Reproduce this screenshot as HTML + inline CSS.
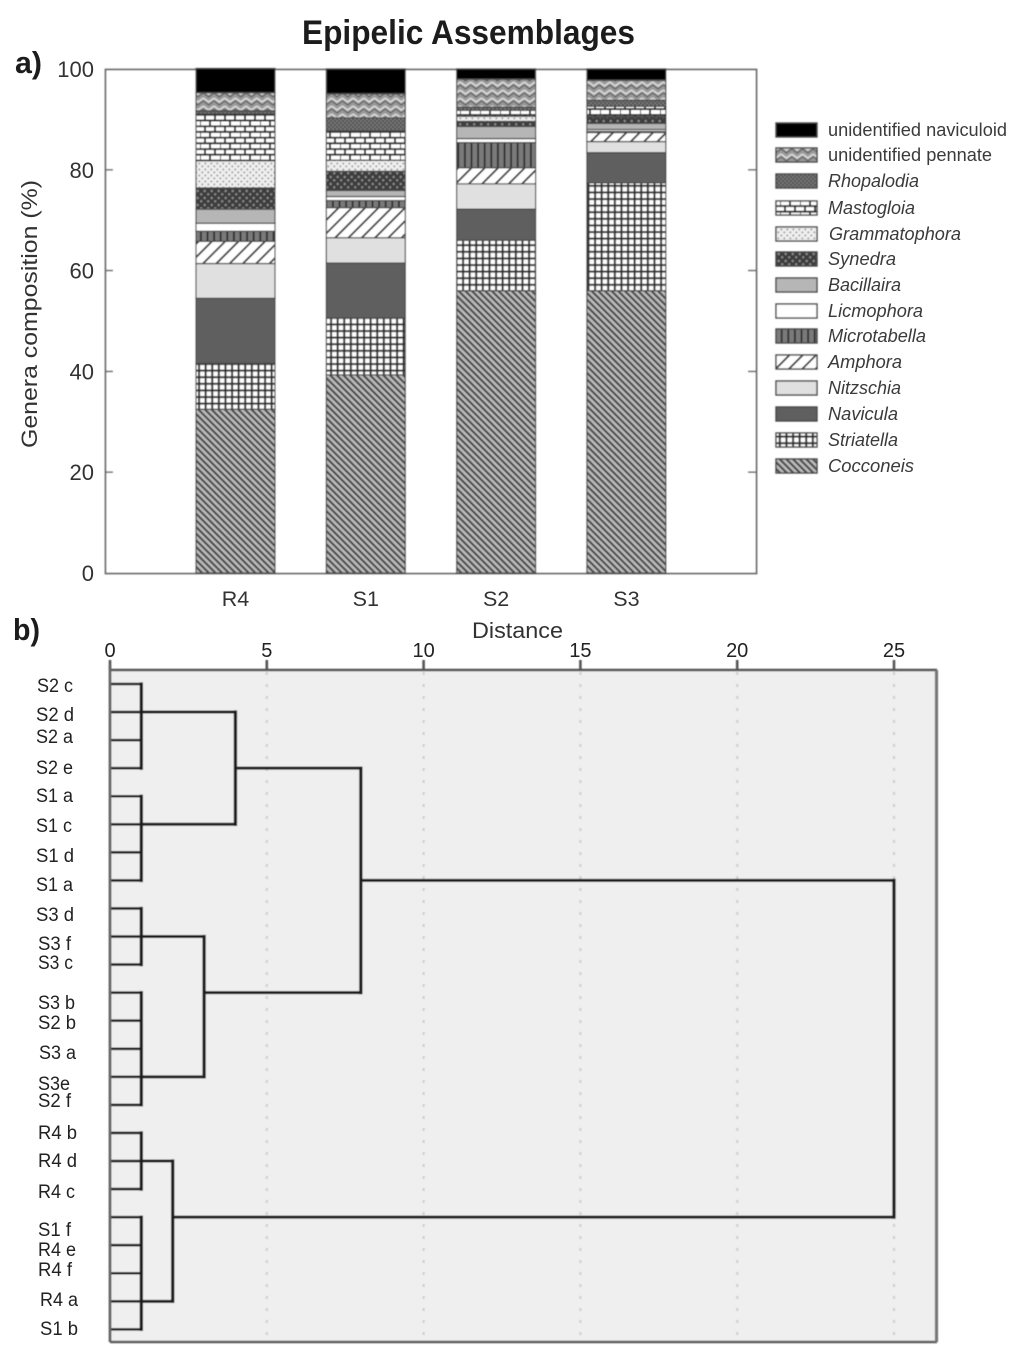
<!DOCTYPE html>
<html>
<head>
<meta charset="utf-8">
<title>Epipelic Assemblages</title>
<style>
html,body{margin:0;padding:0;background:#fff;width:1024px;height:1366px;overflow:hidden}
svg{display:block}
text{font-family:"Liberation Sans",sans-serif;fill:#333}
.leaf{font-size:19px;fill:#222}
.lg{font-size:18px;fill:#3a3a3a}
.it{font-style:italic}
</style>
</head>
<body>
<svg id="figure" xmlns="http://www.w3.org/2000/svg" width="1024" height="1366" viewBox="0 0 1024 1366">
<defs>
<filter id="soft" filterUnits="userSpaceOnUse" x="0" y="0" width="1024" height="1366"><feGaussianBlur stdDeviation="0.5"/></filter>
<filter id="softText" filterUnits="userSpaceOnUse" x="0" y="0" width="1024" height="1366"><feGaussianBlur stdDeviation="0.35"/></filter>
<pattern id="p-naviculoid" width="8" height="8" patternUnits="userSpaceOnUse"><rect width="8" height="8" fill="#000"/></pattern>
<pattern id="p-pennate" width="10.7" height="8" patternUnits="userSpaceOnUse"><rect width="10.7" height="8" fill="#999"/><path d="M0 2 L5.35 6 L10.7 2" fill="none" stroke="#dcdcdc" stroke-width="1.7"/><path d="M0 5 L5.35 9 L10.7 5 M0 -3 L5.35 1 L10.7 -3" fill="none" stroke="#555" stroke-width="1"/></pattern>
<pattern id="p-rhopalodia" width="4" height="4" patternUnits="userSpaceOnUse"><rect width="4" height="4" fill="#5a5a5a"/><circle cx="1" cy="1" r=".8" fill="#8a8a8a"/><circle cx="3" cy="3" r=".8" fill="#8a8a8a"/></pattern>
<pattern id="p-mastogloia" width="20" height="11.4" patternUnits="userSpaceOnUse"><rect width="20" height="11.4" fill="#fff"/><path d="M0 .8H20M0 6.500H20M5 .8V6.500M15 .8V6.500M0 6.500V11.400M10 6.500V11.400" stroke="#222" stroke-width="1.9" fill="none"/></pattern>
<pattern id="p-grammatophora" width="6" height="6" patternUnits="userSpaceOnUse"><rect width="6" height="6" fill="#efefef"/><circle cx="1.3" cy="1.5" r="1" fill="#999"/><circle cx="4.3" cy="4.4" r="1" fill="#999"/></pattern>
<pattern id="p-synedra" width="7" height="7" patternUnits="userSpaceOnUse"><rect width="7" height="7" fill="#3e3e3e"/><circle cx="1.7" cy="2" r="1.2" fill="#8d8d8d"/><circle cx="5.2" cy="5.3" r="1.2" fill="#8d8d8d"/></pattern>
<pattern id="p-bacillaira" width="8" height="8" patternUnits="userSpaceOnUse"><rect width="8" height="8" fill="#b6b6b6"/></pattern>
<pattern id="p-licmophora" width="8" height="8" patternUnits="userSpaceOnUse"><rect width="8" height="8" fill="#fff"/></pattern>
<pattern id="p-microtabella" width="6.6" height="8" patternUnits="userSpaceOnUse"><rect width="6.6" height="8" fill="#7a7a7a"/><rect x="2" width="1.8" height="8" fill="#2c2c2c"/></pattern>
<pattern id="p-amphora" width="9.4" height="9.4" patternUnits="userSpaceOnUse" patternTransform="rotate(45)"><rect width="9.4" height="9.4" fill="#fff"/><rect width="1.8" height="9.4" fill="#2c2c2c"/></pattern>
<pattern id="p-nitzschia" width="8" height="8" patternUnits="userSpaceOnUse"><rect width="8" height="8" fill="#e0e0e0"/></pattern>
<pattern id="p-navicula" width="8" height="8" patternUnits="userSpaceOnUse"><rect width="8" height="8" fill="#5e5e5e"/></pattern>
<pattern id="p-striatella" width="6.6" height="6.6" patternUnits="userSpaceOnUse"><rect width="6.6" height="6.6" fill="#fff"/><path d="M1 0V6.600M0 1H6.600" stroke="#2e2e2e" stroke-width="2.1" fill="none"/></pattern>
<pattern id="p-cocconeis" width="4.7" height="4.7" patternUnits="userSpaceOnUse" patternTransform="rotate(-45)"><rect width="4.7" height="4.7" fill="#bcbcbc"/><rect width="2.1" height="4.7" fill="#444"/></pattern>
</defs>

<g id="panel-a-shapes" filter="url(#soft)">
<rect x="105.5" y="69.5" width="651" height="504" fill="#fff" stroke="#6f6f6f" stroke-width="1.8"/>
<g id="bars"></g>
<g id="yTicks"></g>
<g stroke="#4a4a4a" stroke-width="1.4">
<rect x="776" y="123" width="41" height="14" fill="url(#p-naviculoid)"/>
<rect x="776" y="148" width="41" height="14" fill="url(#p-pennate)"/>
<rect x="776" y="174" width="41" height="14" fill="url(#p-rhopalodia)"/>
<rect x="776" y="201" width="41" height="14" fill="url(#p-mastogloia)"/>
<rect x="776" y="227" width="41" height="14" fill="url(#p-grammatophora)"/>
<rect x="776" y="252" width="41" height="14" fill="url(#p-synedra)"/>
<rect x="776" y="278" width="41" height="14" fill="url(#p-bacillaira)"/>
<rect x="776" y="304" width="41" height="14" fill="url(#p-licmophora)"/>
<rect x="776" y="329" width="41" height="14" fill="url(#p-microtabella)"/>
<rect x="776" y="355" width="41" height="14" fill="url(#p-amphora)"/>
<rect x="776" y="381" width="41" height="14" fill="url(#p-nitzschia)"/>
<rect x="776" y="407" width="41" height="14" fill="url(#p-navicula)"/>
<rect x="776" y="433" width="41" height="14" fill="url(#p-striatella)"/>
<rect x="776" y="459" width="41" height="14" fill="url(#p-cocconeis)"/>
</g>
</g>

<g filter="url(#softText)">
<text x="302" y="44" font-size="34" font-weight="700" textLength="333" lengthAdjust="spacingAndGlyphs" style="fill:#1c1c1c">Epipelic Assemblages</text>
<text x="15" y="73" font-size="31" font-weight="700" textLength="27" lengthAdjust="spacingAndGlyphs" style="fill:#1c1c1c">a)</text>
<text transform="translate(37,448) rotate(-90)" font-size="22" textLength="268" lengthAdjust="spacingAndGlyphs">Genera composition (%)</text>
<g id="yLabels"></g>
<g id="xLabels"></g>
<g>
<text class="lg" x="828" y="136" textLength="179" lengthAdjust="spacingAndGlyphs">unidentified naviculoid</text>
<text class="lg" x="828" y="161" textLength="164" lengthAdjust="spacingAndGlyphs">unidentified pennate</text>
<text class="lg it" x="828" y="187" textLength="91" lengthAdjust="spacingAndGlyphs">Rhopalodia</text>
<text class="lg it" x="828" y="214" textLength="87" lengthAdjust="spacingAndGlyphs">Mastogloia</text>
<text class="lg it" x="829" y="240" textLength="132" lengthAdjust="spacingAndGlyphs">Grammatophora</text>
<text class="lg it" x="828" y="265" textLength="68" lengthAdjust="spacingAndGlyphs">Synedra</text>
<text class="lg it" x="828" y="291" textLength="73" lengthAdjust="spacingAndGlyphs">Bacillaira</text>
<text class="lg it" x="828" y="317" textLength="95" lengthAdjust="spacingAndGlyphs">Licmophora</text>
<text class="lg it" x="828" y="342" textLength="98" lengthAdjust="spacingAndGlyphs">Microtabella</text>
<text class="lg it" x="828" y="368" textLength="74" lengthAdjust="spacingAndGlyphs">Amphora</text>
<text class="lg it" x="828" y="394" textLength="73" lengthAdjust="spacingAndGlyphs">Nitzschia</text>
<text class="lg it" x="828" y="420" textLength="70" lengthAdjust="spacingAndGlyphs">Navicula</text>
<text class="lg it" x="828" y="446" textLength="70" lengthAdjust="spacingAndGlyphs">Striatella</text>
<text class="lg it" x="828" y="472" textLength="86" lengthAdjust="spacingAndGlyphs">Cocconeis</text>
</g>
</g>

<g filter="url(#soft)">
<rect x="110" y="670" width="827" height="672" fill="#efefef"/>
<g id="dGrid"></g>
<g id="tree"></g>
<path d="M110 670H937" stroke="#555" stroke-width="2.4" fill="none"/>
<path d="M110 665V1342" stroke="#666" stroke-width="2.8" fill="none"/>
<path d="M110 1342H937" stroke="#5c5c5c" stroke-width="2.4" fill="none"/>
<path d="M936.500 670V1342" stroke="#777" stroke-width="3.2" fill="none"/>
</g>

<g filter="url(#softText)">
<text x="13" y="640" font-size="31" font-weight="700" textLength="27" lengthAdjust="spacingAndGlyphs" style="fill:#1c1c1c">b)</text>
<text x="472" y="638" font-size="22" textLength="91" lengthAdjust="spacingAndGlyphs">Distance</text>
<g id="dLabels"></g>
<g>
<text class="leaf" x="37" y="692" textLength="36" lengthAdjust="spacingAndGlyphs">S2 c</text>
<text class="leaf" x="36" y="721" textLength="38" lengthAdjust="spacingAndGlyphs">S2 d</text>
<text class="leaf" x="36" y="743" textLength="37" lengthAdjust="spacingAndGlyphs">S2 a</text>
<text class="leaf" x="36" y="774" textLength="37" lengthAdjust="spacingAndGlyphs">S2 e</text>
<text class="leaf" x="36" y="802" textLength="37" lengthAdjust="spacingAndGlyphs">S1 a</text>
<text class="leaf" x="36" y="832" textLength="36" lengthAdjust="spacingAndGlyphs">S1 c</text>
<text class="leaf" x="36" y="862" textLength="38" lengthAdjust="spacingAndGlyphs">S1 d</text>
<text class="leaf" x="36" y="891" textLength="37" lengthAdjust="spacingAndGlyphs">S1 a</text>
<text class="leaf" x="36" y="921" textLength="38" lengthAdjust="spacingAndGlyphs">S3 d</text>
<text class="leaf" x="38" y="950" textLength="33" lengthAdjust="spacingAndGlyphs">S3 f</text>
<text class="leaf" x="38" y="969" textLength="35" lengthAdjust="spacingAndGlyphs">S3 c</text>
<text class="leaf" x="38" y="1009" textLength="37" lengthAdjust="spacingAndGlyphs">S3 b</text>
<text class="leaf" x="38" y="1029" textLength="38" lengthAdjust="spacingAndGlyphs">S2 b</text>
<text class="leaf" x="39" y="1059" textLength="37" lengthAdjust="spacingAndGlyphs">S3 a</text>
<text class="leaf" x="38" y="1090" textLength="32" lengthAdjust="spacingAndGlyphs">S3e</text>
<text class="leaf" x="38" y="1107" textLength="33" lengthAdjust="spacingAndGlyphs">S2 f</text>
<text class="leaf" x="38" y="1139" textLength="39" lengthAdjust="spacingAndGlyphs">R4 b</text>
<text class="leaf" x="38" y="1167" textLength="39" lengthAdjust="spacingAndGlyphs">R4 d</text>
<text class="leaf" x="38" y="1198" textLength="37" lengthAdjust="spacingAndGlyphs">R4 c</text>
<text class="leaf" x="38" y="1236" textLength="33" lengthAdjust="spacingAndGlyphs">S1 f</text>
<text class="leaf" x="38" y="1256" textLength="38" lengthAdjust="spacingAndGlyphs">R4 e</text>
<text class="leaf" x="38" y="1276" textLength="34" lengthAdjust="spacingAndGlyphs">R4 f</text>
<text class="leaf" x="40" y="1306" textLength="38" lengthAdjust="spacingAndGlyphs">R4 a</text>
<text class="leaf" x="40" y="1335" textLength="38" lengthAdjust="spacingAndGlyphs">S1 b</text>
</g>
</g>
</svg>

<script>
// Panel a data: one array per genus, values for sites R4, S1, S2, S3 (% composition)
const sites = ['R4', 'S1', 'S2', 'S3'];
const yTickValues = [0, 20, 40, 60, 80, 100];
const cocconeis = [32.5, 39.3, 56.0, 56.0];
const striatella = [9.1, 11.3, 10.0, 21.4];
const navicula = [12.9, 10.9, 6.2, 6.0];
const nitzschia = [6.9, 5.0, 5.0, 2.2];
const amphora = [4.4, 6.0, 3.2, 1.8];
const microtabella = [2.0, 1.4, 5.0, 0.2];
const licmophora = [1.6, 0.8, 0.8, 0.4];
const bacillaira = [2.8, 1.2, 2.4, 1.2];
const synedra = [4.2, 3.8, 1.0, 1.2];
const grammatophora = [5.4, 2.2, 1.0, 0.2];
const mastogloia = [9.3, 5.8, 1.2, 2.0];
const rhopalodia = [0.6, 2.6, 0.6, 1.2];
const unidentifiedPennate = [3.6, 4.8, 5.6, 4.0];
const unidentifiedNaviculoid = [4.8, 4.9, 2.0, 2.2];
const genusNames = ['cocconeis', 'striatella', 'navicula', 'nitzschia', 'amphora', 'microtabella', 'licmophora', 'bacillaira', 'synedra', 'grammatophora', 'mastogloia', 'rhopalodia', 'pennate', 'naviculoid'];
const genusSeries = [cocconeis, striatella, navicula, nitzschia, amphora, microtabella, licmophora, bacillaira, synedra, grammatophora, mastogloia, rhopalodia, unidentifiedPennate, unidentifiedNaviculoid];

// Panel b data: distance ticks and nested merge tree.
// Each merge: height (distance), exit (leaf row the outgoing branch leaves from), kids (leaf rows or merges).
const distanceTicks = [0, 5, 10, 15, 20, 25];
const leafCount = 24;
const groupS2 = { height: 1, exit: 1, kids: [0, 1, 2, 3] };
const groupS1 = { height: 1, exit: 5, kids: [4, 5, 6, 7] };
const groupS3a = { height: 1, exit: 9, kids: [8, 9, 10] };
const groupS3b = { height: 1, exit: 14, kids: [11, 12, 13, 14, 15] };
const groupR4a = { height: 1, exit: 17, kids: [16, 17, 18] };
const groupR4b = { height: 1, exit: 22, kids: [19, 20, 21, 22, 23] };
const mergeS2S1 = { height: 4, exit: 3, kids: [groupS2, groupS1] };
const mergeS3 = { height: 3, exit: 11, kids: [groupS3a, groupS3b] };
const mergeUpper = { height: 8, exit: 7, kids: [mergeS2S1, mergeS3] };
const mergeR4 = { height: 2, exit: 19, kids: [groupR4a, groupR4b] };
const rootMerge = { height: 25, exit: 7, kids: [mergeUpper, mergeR4] };

const NS = 'http://www.w3.org/2000/svg';
function make(tag, attrs, parent, txt) {
  const el = document.createElementNS(NS, tag);
  for (const k in attrs) el.setAttribute(k, attrs[k]);
  if (txt !== undefined) el.textContent = txt;
  parent.appendChild(el);
  return el;
}
const yScale = v => 573 - v * 5.04;
const xScale = i => 235.5 + i * 130.3;
const barWidth = 79;
const dX = v => 110 + v * 31.36;
const dY = row => 684 + row * 28.06;

// Bars
const barsG = document.getElementById('bars');
sites.forEach((site, i) => {
  let cum = 0;
  const group = make('g', {}, barsG);
  
  
  genusSeries.forEach((series, g) => {
    const v = series[i];
    const top = yScale(cum + v);
    const seg = make('rect', {
      x: xScale(i) - barWidth / 2,
      y: top,
      width: barWidth,
      height: yScale(cum) - top,
      fill: 'url(#p-' + genusNames[g] + ')',
      stroke: '#4a4a4a',
      'stroke-width': 1.2
    }, group);
    
    
    cum += v;
  });
});

// Axis ticks and labels for panel a
const yTicksG = document.getElementById('yTicks');
const yLabelsG = document.getElementById('yLabels');
yTickValues.forEach(v => {
  const y = yScale(v);
  if (v > 0 && v < 100) {
    const t = make('path', { d: 'M105 ' + y + 'H113M748 ' + y + 'H756', stroke: '#6f6f6f', 'stroke-width': 1.6 }, yTicksG);
    
    
  }
  const l = make('text', { x: 94, y: y + 8, 'font-size': 22, 'text-anchor': 'end' }, yLabelsG, String(v));
  
  
});
const xLabelsG = document.getElementById('xLabels');
sites.forEach((site, i) => {
  const l = make('text', { x: xScale(i), y: 606, 'font-size': 21.5, 'text-anchor': 'middle' }, xLabelsG, site);
  
  
});

// Distance axis for panel b
const dGridG = document.getElementById('dGrid');
const dLabelsG = document.getElementById('dLabels');
distanceTicks.forEach(v => {
  const x = dX(v);
  if (v > 0) {
    const g = make('path', { d: 'M' + x + ' 672V1341', stroke: '#cfcfcf', 'stroke-width': 2.2, 'stroke-dasharray': '3 9', fill: 'none' }, dGridG);
    
    
  }
  const t = make('path', { d: 'M' + x + ' 660V670', stroke: '#555', 'stroke-width': 2.6, fill: 'none' }, dGridG);
  
  
  const l = make('text', { x: x, y: 657, 'font-size': 20, 'text-anchor': 'middle', style: 'fill:#222' }, dLabelsG, String(v));
  
  
});

// Dendrogram
const treeG = document.getElementById('tree');
function drawMerge(node) {
  const rows = node.kids.map(k => (typeof k === 'number' ? k : k.exit));
  const x = dX(node.height);
  const v = make('path', { d: 'M' + x + ' ' + dY(Math.min.apply(null, rows)) + 'V' + dY(Math.max.apply(null, rows)), stroke: '#1c1c1c', 'stroke-width': 3.3, fill: 'none', 'stroke-linecap': 'square' }, treeG);
  
  
  node.kids.forEach(k => {
    const isLeaf = typeof k === 'number';
    const row = isLeaf ? k : k.exit;
    const start = isLeaf ? 0 : k.height;
    const h = make('path', { d: 'M' + dX(start) + ' ' + dY(row) + 'H' + x, stroke: '#1c1c1c', 'stroke-width': isLeaf ? 2.6 : 3, fill: 'none' }, treeG);
    
    
    if (!isLeaf) drawMerge(k);
  });
}
drawMerge(rootMerge);
</script>
</body>
</html>
